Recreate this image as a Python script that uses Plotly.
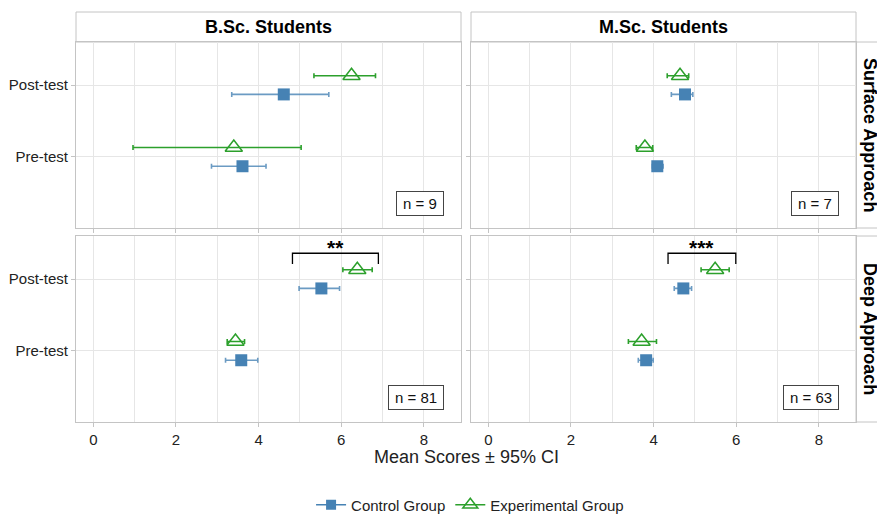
import plotly.graph_objects as go

# ---------------- data ----------------
panels = ["B.Sc. Surface", "M.Sc. Surface", "B.Sc. Deep", "M.Sc. Deep"]
col_labels = ["B.Sc. Students", "M.Sc. Students"]
row_labels = ["Surface Approach", "Deep Approach"]
tests = ["Pre-test", "Post-test"]

# Control group: [pre, post] per panel
ctrl_mean = [[3.61, 4.61], [4.09, 4.76], [3.58, 5.52], [3.82, 4.72]]
ctrl_low = [[2.86, 3.35], [3.97, 4.43], [3.20, 4.98], [3.63, 4.50]]
ctrl_high = [[4.18, 5.70], [4.23, 4.95], [3.98, 5.96], [3.99, 4.92]]

# Experimental group: [pre, post] per panel
exp_mean = [[3.40, 6.25], [3.79, 4.64], [3.44, 6.39], [3.71, 5.49]]
exp_low = [[0.96, 5.34], [3.58, 4.33], [3.24, 6.04], [3.39, 5.15]]
exp_high = [[5.03, 6.83], [3.98, 4.85], [3.66, 6.75], [4.07, 5.83]]

n_labels = ["n = 9", "n = 7", "n = 81", "n = 63"]

# significance brackets: panel index, x start, x end, label
sig_panel = [2, 3]
sig_x0 = [4.82, 4.35]
sig_x1 = [6.90, 5.99]
sig_text = ["**", "***"]

# ---------------- style ----------------
CTRL = "#4682B4"
CTRL_ERR = "rgba(70,130,180,0.8)"
EXP = "#2CA02C"
FONT = "Liberation Sans, Arial, sans-serif"
BORDER = "#C4C4C4"
GRID = "#E6E6E6"
W, H = 877, 515

def px_x(p):
    return p / W

def px_y(p):
    return 1 - p / H

col_dom = [[px_x(76), px_x(461)], [px_x(471), px_x(856)]]
row_dom = [[px_y(228), px_y(42)], [px_y(422), px_y(236)]]
dodge = 0.13
yrange = [0.01, 2.6]
xrange = [-0.42, 8.9]

fig = go.Figure()
layout = dict(
    width=W, height=H, margin=dict(l=0, r=0, t=0, b=0, autoexpand=False),
    plot_bgcolor="white", paper_bgcolor="white",
    font=dict(family=FONT, size=15, color="#222222"),
    showlegend=True,
    legend=dict(orientation="h", x=0.536, xanchor="center", y=px_y(505), yanchor="middle",
                font=dict(size=15, color="#222222"), itemwidth=30),
)

annotations = []
shapes = []

for i, name in enumerate(panels):
    r, c = divmod(i, 2)
    k = "" if i == 0 else str(i + 1)
    xa, ya = "x" + k, "y" + k
    ypos = [1, 2]
    # control
    fig.add_trace(go.Scatter(
        x=ctrl_mean[i], y=[v - dodge for v in ypos], mode="markers", xaxis=xa, yaxis=ya,
        marker=dict(symbol="square", size=12, color=CTRL),
        error_x=dict(type="data", symmetric=False,
                     array=[h - m for h, m in zip(ctrl_high[i], ctrl_mean[i])],
                     arrayminus=[m - l for l, m in zip(ctrl_low[i], ctrl_mean[i])],
                     color=CTRL_ERR, thickness=1.6, width=2.5),
        showlegend=False, name="Control Group"))
    # experimental
    fig.add_trace(go.Scatter(
        x=exp_mean[i], y=[v + dodge for v in ypos], mode="markers", xaxis=xa, yaxis=ya,
        marker=dict(symbol="triangle-up-open", size=15, color=EXP, line=dict(width=1.5, color=EXP)),
        error_x=dict(type="data", symmetric=False,
                     array=[h - m for h, m in zip(exp_high[i], exp_mean[i])],
                     arrayminus=[m - l for l, m in zip(exp_low[i], exp_mean[i])],
                     color=EXP, thickness=1.6, width=2.5),
        showlegend=False, name="Experimental Group"))

    layout["xaxis" + k] = dict(
        domain=col_dom[c], anchor=ya, range=xrange, dtick=2, tick0=0, automargin=False,
        showgrid=True, gridcolor=GRID, gridwidth=1,
        minor=dict(dtick=1, tick0=1, showgrid=True, gridcolor=GRID, gridwidth=1, ticks=""),
        showline=True, mirror=True, linecolor=BORDER, linewidth=1,
        ticks="outside", ticklen=4, tickcolor=BORDER,
        showticklabels=(r == 1), tickfont=dict(size=15, color="#222222"), zeroline=False)
    layout["yaxis" + k] = dict(
        domain=row_dom[r], anchor=xa, range=yrange, automargin=False,
        tickvals=ypos, ticktext=tests,
        showgrid=True, gridcolor=GRID, gridwidth=1,
        showline=True, mirror=True, linecolor=BORDER, linewidth=1,
        ticks="outside", ticklen=4, tickcolor=BORDER,
        showticklabels=(c == 0), tickfont=dict(size=15, color="#222222"), zeroline=False)

    # n label
    annotations.append(dict(
        x=8.5, y=0.355, xref=xa, yref=ya, text="\u2009" + n_labels[i] + "\u2009", showarrow=False,
        xanchor="right", yanchor="middle", font=dict(size=15, color="#111111"),
        bgcolor="white", bordercolor="#444444", borderwidth=1, borderpad=3))

# significance brackets
for p, x0, x1, t in zip(sig_panel, sig_x0, sig_x1, sig_text):
    k = "" if p == 0 else str(p + 1)
    fig.add_trace(go.Scatter(
        x=[x0, x0, x1, x1], y=[2.21, 2.36, 2.36, 2.21], mode="lines",
        xaxis="x" + k, yaxis="y" + k, line=dict(color="black", width=1.3),
        showlegend=False, hoverinfo="skip"))
    annotations.append(dict(
        x=(x0 + x1) / 2, y=2.36, xref="x" + k, yref="y" + k, text="<b>" + t + "</b>",
        showarrow=False, xanchor="center", yanchor="bottom", yshift=-8,
        font=dict(size=21, color="black")))

# legend entries
fig.add_trace(go.Scatter(x=[None], y=[None], mode="lines+markers", name="Control Group",
                         marker=dict(symbol="square", size=10, color=CTRL),
                         line=dict(color=CTRL, width=1.6)))
fig.add_trace(go.Scatter(x=[None], y=[None], mode="lines+markers", name="Experimental Group",
                         marker=dict(symbol="triangle-up-open", size=13, color=EXP,
                                     line=dict(width=1.5, color=EXP)),
                         line=dict(color=EXP, width=1.6)))

# facet strips
for c, lab in enumerate(col_labels):
    shapes.append(dict(type="rect", xref="paper", yref="paper",
                       x0=col_dom[c][0], x1=col_dom[c][1], y0=px_y(42), y1=px_y(12),
                       line=dict(color=BORDER, width=1), fillcolor="white", layer="below"))
    annotations.append(dict(x=sum(col_dom[c]) / 2, y=px_y(27), xref="paper", yref="paper",
                            text="<b>" + lab + "</b>", showarrow=False,
                            xanchor="center", yanchor="middle",
                            font=dict(size=18, color="black")))
for r, lab in enumerate(row_labels):
    shapes.append(dict(type="rect", xref="paper", yref="paper",
                       x0=px_x(856), x1=px_x(890), y0=row_dom[r][0], y1=row_dom[r][1],
                       line=dict(color=BORDER, width=1), fillcolor="white", layer="below"))
    annotations.append(dict(x=px_x(870), y=sum(row_dom[r]) / 2, xref="paper", yref="paper",
                            text="<b>" + lab + "</b>", showarrow=False, textangle=90,
                            xanchor="center", yanchor="middle",
                            font=dict(size=18, color="black")))

# x-axis title
annotations.append(dict(x=px_x(466), y=px_y(457), xref="paper", yref="paper",
                        text="Mean Scores \u00b1 95% CI", showarrow=False,
                        xanchor="center", yanchor="middle",
                        font=dict(size=18, color="#222222")))

layout["annotations"] = annotations
layout["shapes"] = shapes
fig.update_layout(**layout)
fig.write_html("out.html", config={"displayModeBar": False},
               post_script="document.body.style.margin='0px';document.body.style.overflow='hidden';")
